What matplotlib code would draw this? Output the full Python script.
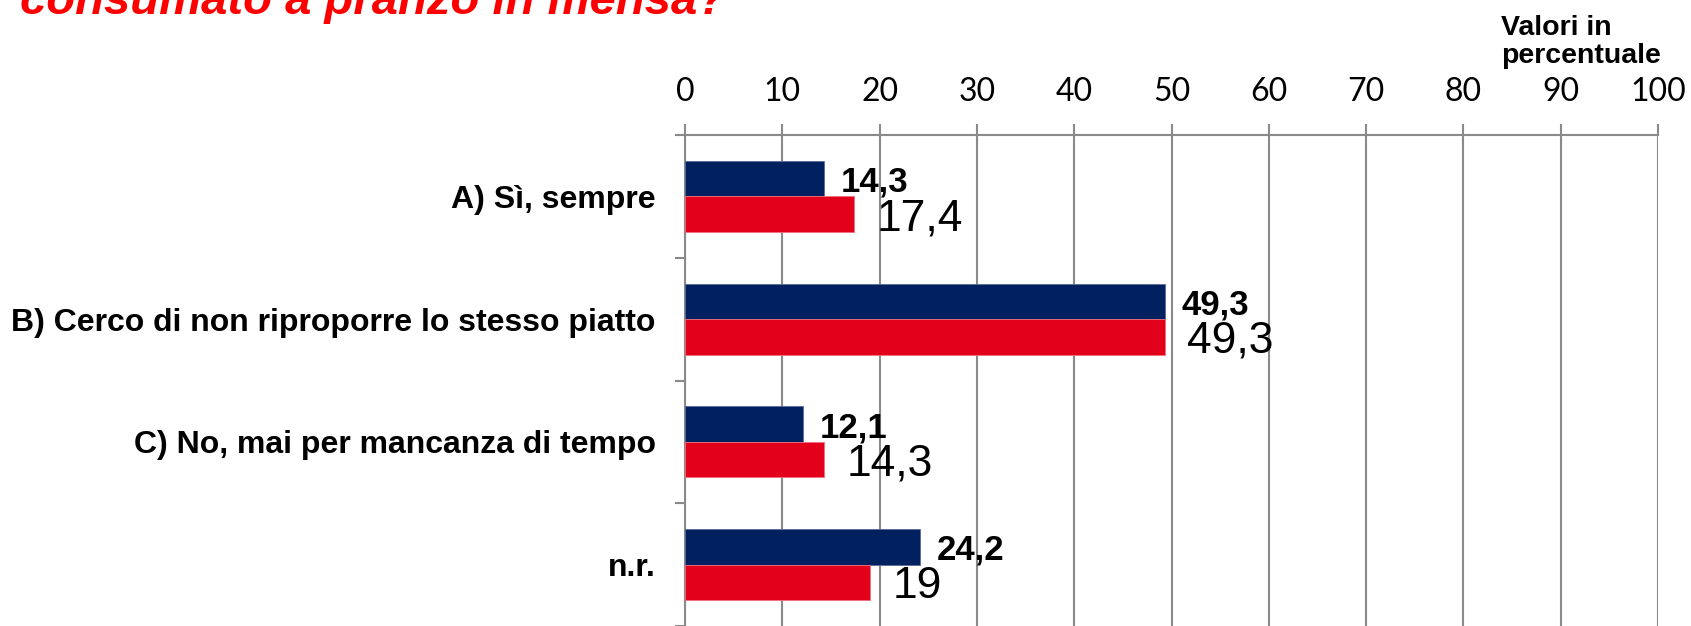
import matplotlib
matplotlib.use("Agg")
import matplotlib.pyplot as plt
import numpy as np

# dati (valori in percentuale)
categorie = ["A) Sì, sempre",
             "B) Cerco di non riproporre lo stesso piatto",
             "C) No, mai per mancanza di tempo",
             "n.r."]
serie_blu = [14.3, 49.3, 12.1, 24.2]
serie_rossa = [17.4, 49.3, 14.3, 19]
tick_x = [0, 10, 20, 30, 40, 50, 60, 70, 80, 90, 100]

blu = '#00205F'
rosso = '#E2001A'
grigio = '#8A8A8A'

def fmt(v):
    s = ('%.1f' % v).replace('.', ',')
    if s.endswith(',0'):
        s = s[:-2]
    return s

W, H = 1691, 626
fig = plt.figure(figsize=(W/100, H/100), dpi=100)
ax = fig.add_axes([685/W, 0.0, (1658-685)/W, 1-135/H])

y = np.arange(len(categorie))
h = 0.29
ax.barh(y - h/2, serie_blu, height=h, color=blu, edgecolor='#5a6a9a', linewidth=0.6, zorder=3)
ax.barh(y + h/2, serie_rossa, height=h, color=rosso, edgecolor='#f07080', linewidth=0.6, zorder=3)

for i in range(len(categorie)):
    ax.text(serie_blu[i] + 1.7, y[i] - h/2, fmt(serie_blu[i]), fontsize=25,
            fontweight='bold', family='Liberation Sans', va='center_baseline', ha='left', zorder=4)
    ax.text(serie_rossa[i] + 2.3, y[i] + h/2, fmt(serie_rossa[i]), fontsize=32,
            family='Liberation Sans', va='center_baseline', ha='left', zorder=4)

ax.set_xlim(0, 100)
ax.set_ylim(len(categorie) - 0.5, -0.5)
ax.xaxis.tick_top()
ax.set_xticks(tick_x)
ax.set_xticklabels([str(t) for t in tick_x], fontsize=23, family='Lato')
ax.tick_params(axis='x', length=8, width=1.5, color=grigio, direction='out', pad=12)

ax.set_yticks(y)
ax.set_yticklabels(categorie, fontsize=23, fontweight='bold', family='Liberation Sans')
ax.set_yticks(np.arange(-0.5, len(categorie), 1), minor=True)
ax.tick_params(axis='y', which='major', length=0, pad=21)
ax.tick_params(axis='y', which='minor', length=7.2, width=1.5, color=grigio, direction='out')

ax.grid(axis='x', color=grigio, linewidth=1.5, zorder=0)
for s in ['left', 'top']:
    ax.spines[s].set_color(grigio)
    ax.spines[s].set_linewidth(1.5)
ax.spines['right'].set_visible(False)
ax.spines['bottom'].set_visible(False)

fig.text(20/W, 1 - 14/H, "consumato a pranzo in mensa?", color='#FF0000',
         fontsize=34, fontweight='bold', style='italic', family='Liberation Sans',
         ha='left', va='baseline')
fig.text(1501/W, 1 - 35/H, "Valori in", fontsize=20.5,
         fontweight='bold', family='Liberation Sans', ha='left', va='baseline')
fig.text(1501/W, 1 - 63/H, "percentuale", fontsize=20.5,
         fontweight='bold', family='Liberation Sans', ha='left', va='baseline')

fig.savefig('out.png', dpi=100)
